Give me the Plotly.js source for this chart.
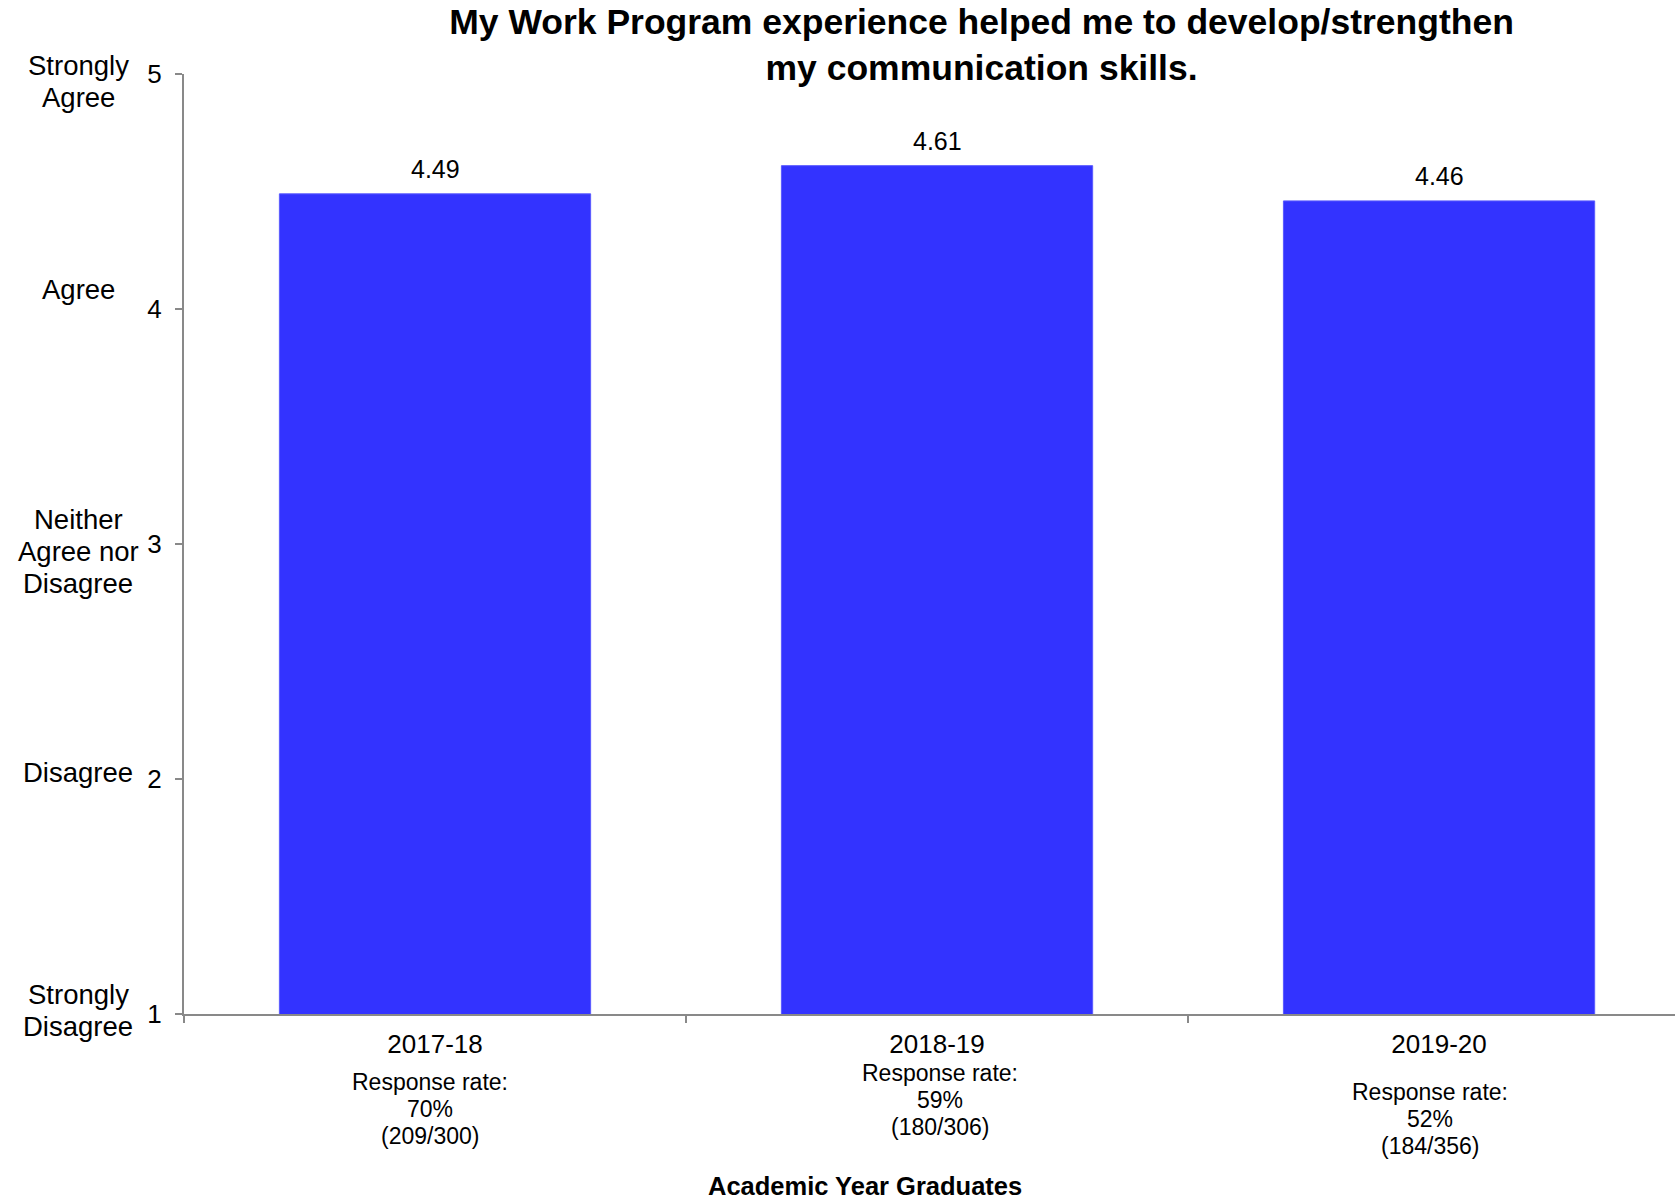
<!DOCTYPE html>
<html>
<head>
<meta charset="utf-8">
<script src="https://cdn.plot.ly/plotly-3.0.1.min.js"></script>
<style>html,body{margin:0;padding:0;background:#fff;}#chart{width:1675px;height:1201px;}</style>
</head>
<body>
<div id="chart"></div>
<script>
const years = ["2017-18", "2018-19", "2019-20"];
const meanScores = [4.49, 4.61, 4.46];
const responseRates = ["70%", "59%", "52%"];
const responseCounts = ["(209/300)", "(180/306)", "(184/356)"];
const scaleValues = [5, 4, 3, 2, 1];
const scaleLabels = [["Strongly", "Agree"], ["Agree"], ["Neither", "Agree nor", "Disagree"], ["Disagree"], ["Strongly", "Disagree"]];
const chartTitle = "My Work Program experience helped me to develop/strengthen<br>my communication skills.";
const xTitle = "Academic Year Graduates";

const FONT = "Liberation Sans, Arial, sans-serif";
const AXIS = "#898989";

const trace = {
  type: "bar",
  x: years,
  y: meanScores,
  width: 0.62,
  marker: {color: "#3333FF", line: {color: "#5a5aff", width: 1}},
  hoverinfo: "none",
  showlegend: false
};

const annotations = [];
function addLines(lines, base, lineH, fontSize) {
  const n = lines.length;
  lines.forEach((t, k) => {
    const a = Object.assign({}, base);
    a.text = t;
    a.showarrow = false;
    a.xanchor = "center";
    a.yanchor = "middle";
    a.yshift = (base.yshift || 0) + ((n - 1) / 2 - k) * lineH;
    a.font = {family: FONT, size: fontSize, color: "#000"};
    annotations.push(a);
  });
}

// value labels
meanScores.forEach((v, i) => {
  annotations.push({
    xref: "x", yref: "y", x: years[i], y: v, text: v.toFixed(2),
    showarrow: false, yanchor: "bottom", yshift: 9,
    font: {family: FONT, size: 25, color: "#000"}
  });
});
// scale labels on the left
const scaleShift = [-7, 20, -7, 7, 4];
scaleValues.forEach((v, i) => {
  addLines(scaleLabels[i], {xref: "paper", yref: "y", x: 0, y: v, xshift: -106, yshift: scaleShift[i]}, 32, 27.5);
});
// response rate blocks
const rrX = [-5, 3, -9];
const rrY = [-0.101, -0.0915, -0.1117];
years.forEach((yr, i) => {
  addLines(["Response rate:", responseRates[i], responseCounts[i]],
    {xref: "x", yref: "paper", x: yr, y: rrY[i], xshift: rrX[i]}, 26.7, 23);
});
// x axis title
annotations.push({
  xref: "paper", yref: "paper", x: 0.4567, y: -0.1825,
  text: "<b>" + xTitle + "</b>", showarrow: false, xanchor: "center", yanchor: "middle",
  font: {family: FONT, size: 25.5, color: "#000"}
});

const layout = {
  width: 1675, height: 1201,
  paper_bgcolor: "#fff", plot_bgcolor: "#fff",
  margin: {l: 184, r: 0, t: 74, b: 187, pad: 0},
  font: {family: FONT, color: "#000"},
  title: {
    text: "<b>" + chartTitle + "</b>",
    font: {family: FONT, size: 35.5, color: "#000"},
    xref: "container", x: 0.586, xanchor: "center",
    yref: "container", y: 0.972, yanchor: "top"
  },
  xaxis: {
    type: "category",
    range: [-0.5, 2.47],
    tickson: "boundaries",
    ticks: "outside", ticklen: 7, tickwidth: 1.5, tickcolor: AXIS,
    showline: true, linecolor: AXIS, linewidth: 2,
    showgrid: false, zeroline: false,
    tickfont: {family: FONT, size: 26, color: "#000"},
    ticklabelstandoff: 6,
    fixedrange: true
  },
  yaxis: {
    range: [1, 5],
    tickmode: "array", tickvals: scaleValues, ticktext: scaleValues.map(String),
    ticks: "outside", ticklen: 7, tickwidth: 1.5, tickcolor: AXIS,
    showline: true, linecolor: AXIS, linewidth: 2,
    showgrid: false, zeroline: false,
    tickfont: {family: FONT, size: 26, color: "#000"},
    ticklabelstandoff: 8,
    fixedrange: true
  },
  annotations: annotations,
  bargap: 0.38
};

Plotly.newPlot("chart", [trace], layout, {staticPlot: true, displayModeBar: false});
</script>
</body>
</html>
